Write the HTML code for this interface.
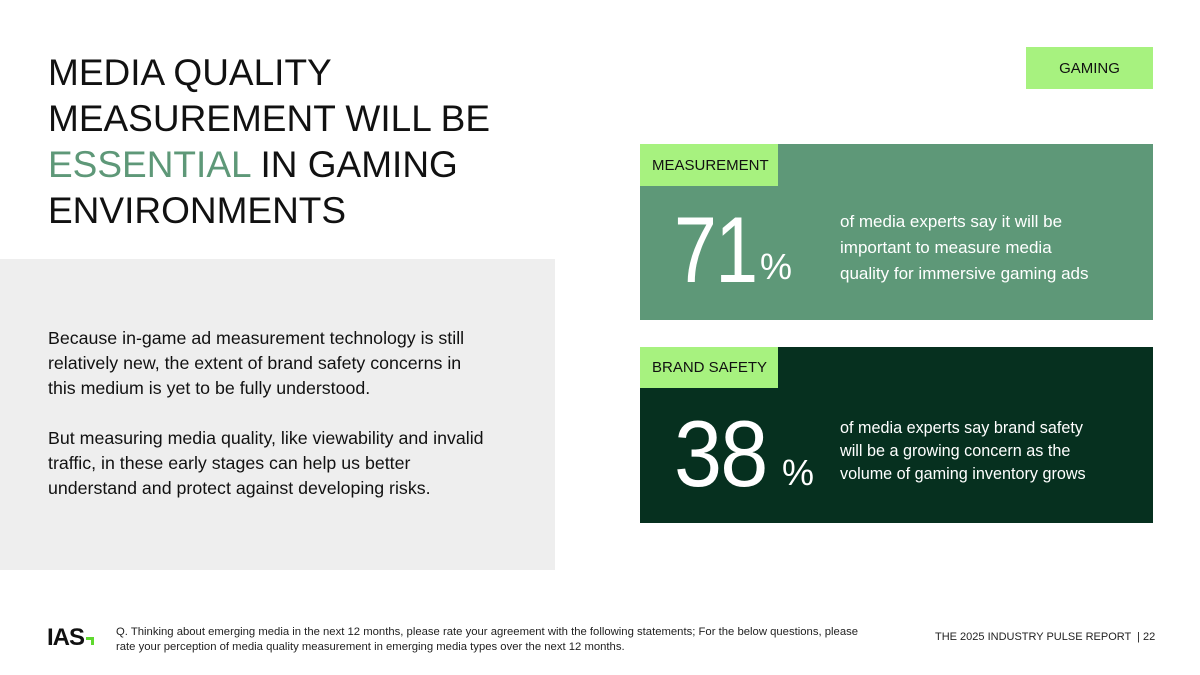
<!DOCTYPE html>
<html><head><meta charset="utf-8"><style>
body{margin:0;width:1200px;height:675px;background:#fff;position:relative;overflow:hidden;font-family:"Liberation Sans",sans-serif;color:#111}
div,span{box-sizing:border-box}
.abs{position:absolute}
.title{left:48px;top:50px;font-size:37px;line-height:46px;color:#111}
.gray{left:0;top:259px;width:555px;height:311px;background:#eeeeee}
.body{left:48px;top:326px;font-size:17.8px;line-height:25px;white-space:nowrap}
.tag{background:#a7f27f;font-size:15px;color:#111;display:flex;align-items:center;justify-content:center}
.big{font-size:94px;color:#fff;line-height:1;letter-spacing:-2px;transform:scaleX(0.82);transform-origin:left top;white-space:nowrap}
.pct{font-size:36px;color:#fff}
.desc{font-size:17px;line-height:26px;color:#fff;white-space:nowrap}
</style></head><body>
<div class="abs title">MEDIA QUALITY<br>MEASUREMENT WILL BE<br><span style="color:#5e9878">ESSENTIAL</span> IN GAMING<br>ENVIRONMENTS</div>
<div class="abs gray"></div>
<div class="abs body">Because in-game ad measurement technology is still<br>relatively new, the extent of brand safety concerns in<br>this medium is yet to be fully understood.<br><br>But measuring media quality, like viewability and invalid<br>traffic, in these early stages can help us better<br>understand and protect against developing risks.</div>
<div class="abs tag" style="left:1026px;top:47px;width:127px;height:42px">GAMING</div>

<div class="abs" style="left:640px;top:144px;width:513px;height:176px;background:#5e9878"></div>
<div class="abs tag" style="left:640px;top:144px;width:138px;height:42px;justify-content:flex-start;padding-left:12px">MEASUREMENT</div>
<div class="abs big" style="left:674px;top:203px">71</div>
<div class="abs pct" style="left:760px;top:246px">%</div>
<div class="abs desc" style="left:840px;top:209px">of media experts say it will be<br>important to measure media<br>quality for immersive gaming ads</div>

<div class="abs" style="left:640px;top:347px;width:513px;height:176px;background:#06301f"></div>
<div class="abs tag" style="left:640px;top:347px;width:138px;height:41px;justify-content:flex-start;padding-left:12px">BRAND SAFETY</div>
<div class="abs big" style="left:674px;top:407px;transform:scaleX(0.92)">38</div>
<div class="abs pct" style="left:782px;top:452px">%</div>
<div class="abs desc" style="left:840px;top:417px;font-size:16.2px;line-height:23px">of media experts say brand safety<br>will be a growing concern as the<br>volume of gaming inventory grows</div>

<div class="abs" style="left:47px;top:626px;font-size:24px;font-weight:bold;letter-spacing:-1px;line-height:24px">IAS<span style="display:inline-block;width:8px;height:8px;border-top:3px solid #5fd92e;border-right:3px solid #5fd92e;margin-left:2px"></span></div>
<div class="abs" style="left:116px;top:625px;font-size:11.3px;line-height:15px;white-space:nowrap;color:#222">Q. Thinking about emerging media in the next 12 months, please rate your agreement with the following statements; For the below questions, please<br>rate your perception of media quality measurement in emerging media types over the next 12 months.</div>
<div class="abs" style="left:935px;top:631px;font-size:11px;color:#222">THE 2025 INDUSTRY PULSE REPORT &nbsp;| 22</div>
</body></html>
